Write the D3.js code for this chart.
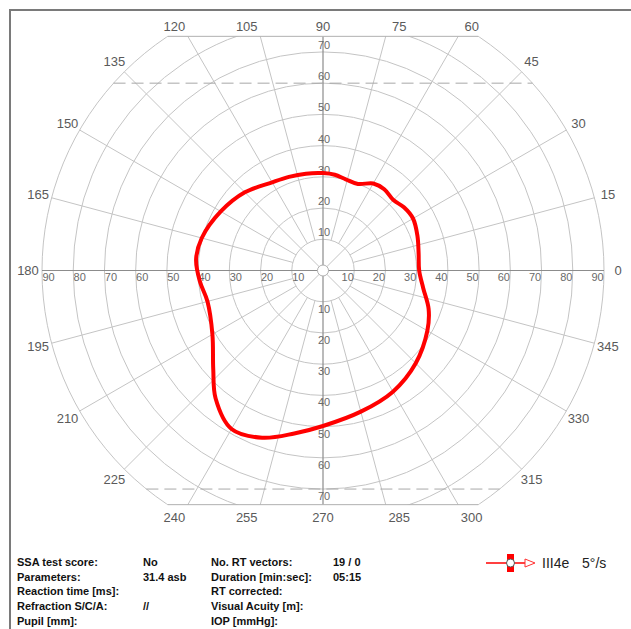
<!DOCTYPE html>
<html>
<head>
<meta charset="utf-8">
<script src="https://cdn.jsdelivr.net/npm/d3@7"></script>
<style>
  html, body { margin: 0; padding: 0; background: #fff; }
  svg { display: block; font-family: "Liberation Sans", Arial, sans-serif; }
</style>
</head>
<body>
<svg id="chart" width="631" height="629"></svg>
<script>
// Goldmann kinetic perimetry chart: polar grid in degrees of eccentricity
const ringValues = [10, 20, 30, 40, 50, 60, 70, 80, 90];
const spokeAngles = d3.range(0, 360, 15);
const horizontalTicks = [10, 20, 30, 40, 50, 60, 70, 80, 90];
const verticalTicks = [10, 20, 30, 40, 50, 60, 70];
const fieldLimit = 75;          // top / bottom cut of the chart (degrees)
const dashedUpper = 60;         // dashed reference line above fixation
const dashedLower = 70;         // dashed reference line below fixation

// Isopter III4e: meridian (deg) and eccentricity (deg)
const isoAngles = [0, 10, 20, 30, 38, 45, 53, 60, 68, 76, 83, 90, 100, 110, 120, 135, 150, 165, 175, 185, 195, 210, 222, 230, 240, 250, 260, 270, 285, 300, 315, 330, 340, 350];
const isoRadii  = [30.8, 31.1, 32.2, 33.3, 32.9, 31.9, 32.6, 32.2, 29.9, 30.1, 30.9, 31.2, 31.5, 31.9, 32.6, 35.4, 37.8, 40.2, 40.8, 39.6, 38.3, 40.9, 47.3, 53.5, 58.6, 57.0, 53.0, 49.8, 46.8, 44.8, 42.0, 38.6, 36.0, 32.6];

// Exam information block
const infoLabelsA = ["SSA test score:", "Parameters:", "Reaction time [ms]:", "Refraction S/C/A:", "Pupil [mm]:"];
const infoValuesA = ["No", "31.4 asb", "", "//", ""];
const infoLabelsB = ["No. RT vectors:", "Duration [min:sec]:", "RT corrected:", "Visual Acuity [m]:", "IOP [mmHg]:"];
const infoValuesB = ["19 / 0", "05:15", "", "", ""];
const legendStimulus = "III4e";
const legendSpeed = "5°/s";

const svg = d3.select("#chart");
const cx = 323, cy = 270.5;
const r = d3.scaleLinear().domain([0, 90]).range([0, 281]);
const rad = d => d * Math.PI / 180;
const px = (deg, v) => cx + r(v) * Math.cos(rad(deg));
const py = (deg, v) => cy - r(v) * Math.sin(rad(deg));

// outer frame
svg.append("path")
  .attr("d", `M10,640 L10,10 L640,10`)
  .attr("fill", "none").attr("stroke", "#7a7a7a").attr("stroke-width", 2);

// clip to the horizontal field limits
svg.append("defs").append("clipPath").attr("id", "field")
  .append("rect")
  .attr("x", 0).attr("width", 631)
  .attr("y", cy - r(fieldLimit)).attr("height", 2 * r(fieldLimit));

const grid = svg.append("g").attr("clip-path", "url(#field)");

grid.selectAll("circle.ring").data(ringValues).join("circle")
  .attr("class", "ring")
  .attr("cx", cx).attr("cy", cy).attr("r", d => r(d))
  .attr("fill", "none").attr("stroke", "#c4c4c4").attr("stroke-width", 1);

grid.selectAll("line.spoke").data(spokeAngles.filter(a => a % 90 !== 0)).join("line")
  .attr("class", "spoke")
  .attr("x1", a => px(a, a % 45 === 0 ? 0 : 10)).attr("y1", a => py(a, a % 45 === 0 ? 0 : 10))
  .attr("x2", a => px(a, 90)).attr("y2", a => py(a, 90))
  .attr("stroke", "#c4c4c4").attr("stroke-width", 1);

// main axes
grid.append("line")
  .attr("x1", px(180, 90)).attr("y1", cy).attr("x2", px(0, 90)).attr("y2", cy)
  .attr("stroke", "#8c8c8c").attr("stroke-width", 1.2);
grid.append("line")
  .attr("x1", cx).attr("y1", cy - r(fieldLimit)).attr("x2", cx).attr("y2", cy + r(fieldLimit))
  .attr("stroke", "#8c8c8c").attr("stroke-width", 1.2);

// straight limits at top and bottom
const chord = v => Math.sqrt(90 * 90 - v * v);
[fieldLimit, -fieldLimit].forEach(v => {
  svg.append("line")
    .attr("x1", cx - r(chord(v))).attr("x2", cx + r(chord(v)))
    .attr("y1", cy - r(v)).attr("y2", cy - r(v))
    .attr("stroke", "#b0b0b0").attr("stroke-width", 1);
});

// dashed reference lines
[dashedUpper, -dashedLower].forEach(v => {
  svg.append("line")
    .attr("x1", cx - r(chord(v))).attr("x2", cx + r(chord(v)))
    .attr("y1", cy - r(v)).attr("y2", cy - r(v))
    .attr("stroke", "#a8a8a8").attr("stroke-width", 1)
    .attr("stroke-dasharray", "12,6");
});

// fixation point
svg.append("circle").attr("cx", cx).attr("cy", cy).attr("r", 5.5)
  .attr("fill", "#fff").attr("stroke", "#b0b0b0").attr("stroke-width", 1);

// eccentricity labels along the axes
const tickFont = { size: "11px", fill: "#6a6a6a" };
const ticks = svg.append("g").attr("font-size", tickFont.size).attr("fill", tickFont.fill)
  .attr("text-anchor", "middle").attr("dominant-baseline", "central");
horizontalTicks.forEach(v => {
  ticks.append("text").attr("x", cx + r(v) - 6.5).attr("y", cy + 6).text(v);
  ticks.append("text").attr("x", cx - r(v) + 6.5).attr("y", cy + 6).text(v);
});
verticalTicks.forEach(v => {
  ticks.append("text").attr("x", cx + 1).attr("y", cy - r(v) - 7).text(v);
  ticks.append("text").attr("x", cx + 1).attr("y", cy + r(v) + 7).text(v);
});

// meridian labels
const angLabels = svg.append("g").attr("font-size", "13px").attr("fill", "#5a5a5a")
  .attr("text-anchor", "middle").attr("dominant-baseline", "central");
spokeAngles.forEach(a => {
  const s = Math.sin(rad(a)), c = Math.cos(rad(a));
  let x, y;
  if (Math.abs(90 * s) > fieldLimit) {
    const xe = r(fieldLimit * c / Math.abs(s));
    const side = Math.abs(c) < 1e-6 ? 0 : Math.sign(c);
    x = cx + xe + side * 13.5;
    y = s > 0 ? cy - r(fieldLimit) - 10 : cy + r(fieldLimit) + 13;
  } else {
    x = cx + (r(90) + 14) * c;
    y = cy - (r(90) + 14) * s;
  }
  angLabels.append("text").attr("x", x).attr("y", y).text(a);
});

// isopter
const isoData = isoAngles.map((a, i) => ({ a, v: isoRadii[i] }));
const isoLine = d3.lineRadial()
  .angle(d => rad(90 - d.a))
  .radius(d => r(d.v))
  .curve(d3.curveCatmullRomClosed.alpha(0.5));
svg.append("path")
  .attr("transform", `translate(${cx},${cy})`)
  .attr("d", isoLine(isoData))
  .attr("fill", "none").attr("stroke", "#ff0000").attr("stroke-width", 4)
  .attr("stroke-linejoin", "round");

// information block
const info = svg.append("g").attr("font-size", "11px").attr("font-weight", "bold").attr("fill", "#111");
const rowY = i => 566 + i * 14.7;
infoLabelsA.forEach((t, i) => info.append("text").attr("x", 17).attr("y", rowY(i)).text(t));
infoValuesA.forEach((t, i) => info.append("text").attr("x", 143).attr("y", rowY(i)).text(t));
infoLabelsB.forEach((t, i) => info.append("text").attr("x", 211).attr("y", rowY(i)).text(t));
infoValuesB.forEach((t, i) => info.append("text").attr("x", 333).attr("y", rowY(i)).text(t));

// legend
const lg = svg.append("g");
const ly = 563;
lg.append("line").attr("x1", 486).attr("x2", 526).attr("y1", ly).attr("y2", ly)
  .attr("stroke", "#ff0000").attr("stroke-width", 1.5);
lg.append("rect").attr("x", 507).attr("y", ly - 9).attr("width", 7).attr("height", 18).attr("fill", "#ff0000");
lg.append("circle").attr("cx", 510.5).attr("cy", ly).attr("r", 4)
  .attr("fill", "#fff").attr("stroke", "#555").attr("stroke-width", 1);
lg.append("path").attr("d", `M525,${ly - 4} L535,${ly} L525,${ly + 4} Z`)
  .attr("fill", "#fff").attr("stroke", "#ff3030").attr("stroke-width", 1);
lg.append("text").attr("x", 542).attr("y", ly + 5).attr("font-size", "14px").attr("fill", "#222").text(legendStimulus);
lg.append("text").attr("x", 582).attr("y", ly + 5).attr("font-size", "14px").attr("fill", "#222").text(legendSpeed);
</script>
</body>
</html>
